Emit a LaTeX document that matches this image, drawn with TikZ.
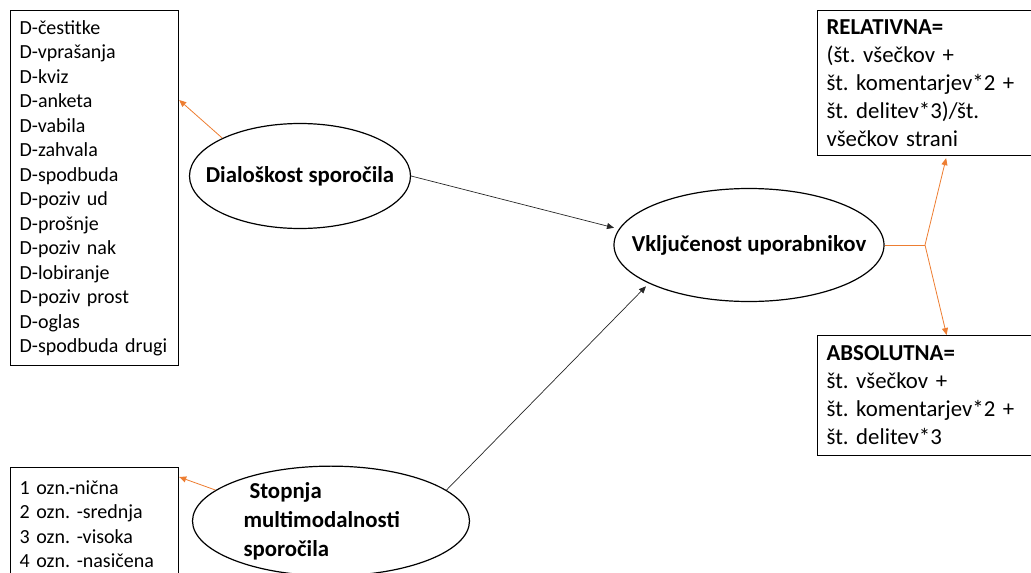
\documentclass[tikz,border=0pt]{standalone}
\usepackage{fontspec}
\setmainfont{Carlito}
\frenchspacing
\usetikzlibrary{arrows.meta,shapes.geometric}
\definecolor{linkorange}{RGB}{237,125,49}
\begin{document}
\begin{tikzpicture}[x=1pt,y=-1pt,font=\fontsize{20}{24.5}\selectfont,>={Triangle[length=7pt,width=6pt]},listbox/.style={draw, line width=1.2pt, align=left, inner xsep=9pt, inner ysep=0pt, anchor=north west},bubble/.style={ellipse, draw, line width=1.2pt, inner xsep=-30pt, inner ysep=0pt, font=\fontsize{22.8}{28}\selectfont\bfseries},feed/.style={->, linkorange, line width=0.8pt},link/.style={->, black!85, line width=0.7pt}]
\useasboundingbox (0,0) rectangle (1031,573);\clip (0,0) rectangle (1031,573);
\node[listbox, text width=150pt, minimum height=355pt] (dlist) at (10,10) {D-čestitke\\D-vprašanja\\D-kviz\\D-anketa\\D-vabila\\D-zahvala\\D-spodbuda\\D-poziv ud\\D-prošnje\\D-poziv nak\\D-lobiranje\\D-poziv prost\\D-oglas\\D-spodbuda drugi};
\node[listbox, text width=150pt, minimum height=113pt] (olist) at (10,467) {1 ozn.-nična\\2 ozn. -srednja\\3 ozn. -visoka\\4 ozn. -nasičena};
\node[bubble, minimum width=221pt, minimum height=105pt] (dial) at (300,176) {Dialoškost sporočila};
\node[bubble, minimum width=270pt, minimum height=113pt] (vklj) at (749,245) {Vključenost uporabnikov};
\node[bubble, minimum width=277pt, minimum height=102pt, text width=175pt, align=left, font={\fontsize{22.8}{29}\selectfont\bfseries}] (stop) at (331,521) {\hspace*{6pt}Stopnja\\multimodalnosti\\sporočila};
\node[listbox, text width=240pt, minimum height=145pt, font=\fontsize{22.8}{28}\selectfont] (rel) at (817,10) {\textbf{RELATIVNA=}\\(št. všečkov +\\št. komentarjev*2 +\\št. delitev*3)/št.\\všečkov strani};
\node[listbox, text width=240pt, minimum height=120pt, font=\fontsize{22.8}{28}\selectfont] (abs) at (817,335) {\textbf{ABSOLUTNA=}\\št. všečkov +\\št. komentarjev*2 +\\št. delitev*3};
\coordinate (fork) at (925,245);
\draw[feed] (dial.154) -- ([yshift=-90pt]dlist.north east);\draw[feed] (stop.165) -- ([yshift=-10pt]olist.north east);
\draw[link, shorten >=5pt] (dial.east) -- (vklj.173);\draw[link, shorten >=4pt] (stop.15) -- (vklj.201);
\draw[linkorange, line width=0.8pt] (vklj.east) -- (fork);\draw[feed, shorten >=2pt] (fork) -- (rel.south);\draw[feed] (fork) -- (abs.north);
\end{tikzpicture}
\end{document}
